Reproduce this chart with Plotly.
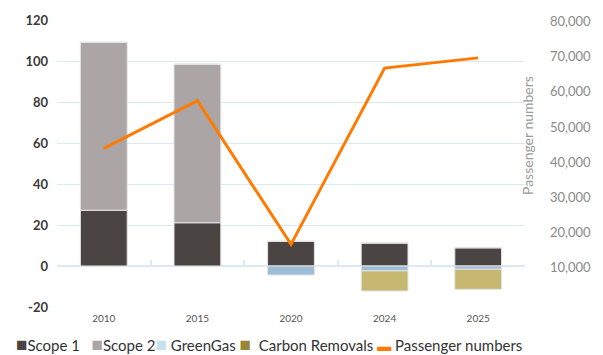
import plotly.graph_objects as go

years = ["2010", "2015", "2020", "2024", "2025"]
scope1 = [27.2, 21.1, 12.0, 11.2, 8.9]
scope2 = [81.9, 77.3, 0, 0, 0]
greengas = [0, 0, -4.4, -2.4, -1.6]
carbon_removals = [0, 0, 0, -9.8, -9.8]
passengers = [43900, 57500, 16500, 66800, 69700]
left_ticks = [-20, 0, 20, 40, 60, 80, 100, 120]
right_ticks = [10000, 20000, 30000, 40000, 50000, 60000, 70000, 80000]

bar_series = [
    ("Scope 1", scope1, "#4a4543", "#4a4543"),
    ("Scope 2", scope2, "#aba6a5", "#aba6a5"),
    ("GreenGas", greengas, "#9dbcd6", "#c8e1ef"),
    ("Carbon Removals", carbon_removals, "#c6b771", "#9a8537"),
]
line_name, line_color = "Passenger numbers", "#ff7a00"

GRID = "#dce9f2"
fig = go.Figure()
for name, vals, col, _ in bar_series:
    fig.add_trace(go.Bar(
        x=years, y=vals, name=name, showlegend=False,
        marker=dict(color=col, line=dict(color="#e4e4e4", width=1)),
    ))

fig.add_trace(go.Scatter(
    x=years, y=passengers, name=line_name, mode="lines", showlegend=False,
    line=dict(color=line_color, width=3), yaxis="y2",
))
# boundary ticks on zero line
fig.add_trace(go.Scatter(
    x=years, y=[None] * len(years), xaxis="x2", showlegend=False,
    hoverinfo="skip", mode="lines",
))

# legend built as text (swatch + name, spacing as in the original)
sw = '<span style="color:{c};font-size:19px">■</span>'
nb = "&nbsp;"
leads = ["", nb * 3, "", nb, ""]
gaps = ["", "", nb, nb * 2, ""]
parts = []
for (name, _, _, legcol), lead, gap in zip(bar_series, leads, gaps):
    parts.append(lead + sw.format(c=legcol) + gap + name)
parts.append(nb + '<span style="color:{c};font-size:14px">▬</span>'.format(c=line_color)
             + nb + line_name)
legend_text = "".join(parts)

fig.update_layout(
    width=603, height=355,
    margin=dict(l=57, r=74, t=17, b=48),
    paper_bgcolor="white", plot_bgcolor="white",
    barmode="relative", bargap=0.5,
    font=dict(family="Lato", color="#333"),
    xaxis=dict(type="category", showgrid=False, showline=False, ticks="",
               tickfont=dict(size=10, color="#555"), ticklabelstandoff=4),
    xaxis2=dict(type="category", matches="x", overlaying="x", anchor="free",
                position=20 / 140, showticklabels=False, showgrid=False,
                showline=False, ticks="inside", tickson="boundaries",
                ticklen=6, tickcolor=GRID, tickwidth=1.5),
    yaxis=dict(range=[-20, 120], tickvals=left_ticks,
               ticktext=[str(v) for v in left_ticks],
               gridcolor=GRID, gridwidth=1,
               zeroline=True, zerolinecolor=GRID, zerolinewidth=1.5,
               tickfont=dict(size=13, color="#3a3a3a", weight="bold"),
               ticklabelstandoff=8),
    yaxis2=dict(overlaying="y", side="right", range=[-1350, 80500],
                tickvals=right_ticks, tickformat=",", showgrid=False,
                zeroline=False, tickfont=dict(size=13, color="#8a8a8a"),
                ticklabelstandoff=24),
    annotations=[
        dict(text="Passenger numbers", xref="paper", yref="paper",
             x=1.029, y=0.596, textangle=-90, showarrow=False,
             font=dict(size=14, color="#9a9a9a")),
        dict(text=legend_text, xref="paper", yref="paper",
             x=-0.092, xanchor="left", y=-0.128, yanchor="middle",
             showarrow=False, font=dict(size=15, color="#333")),
    ],
    showlegend=False,
)

fig.write_html("out.html")
